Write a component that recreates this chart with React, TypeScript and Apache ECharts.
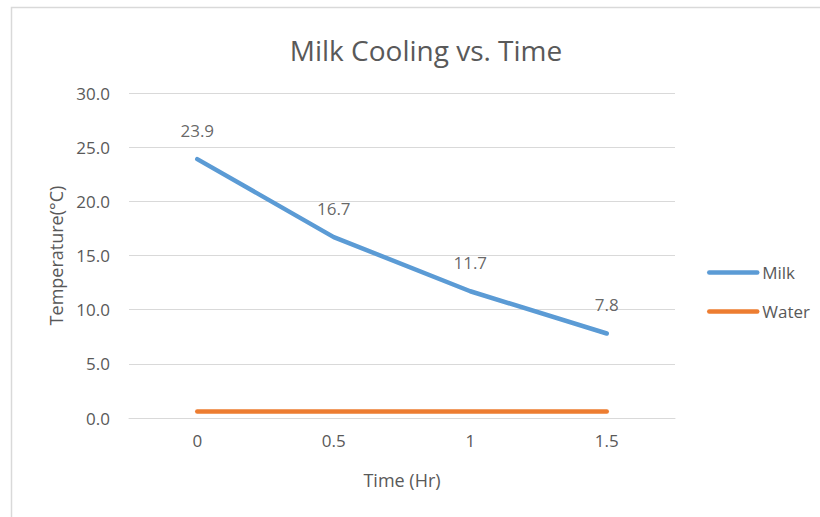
import React, { useEffect, useRef } from "react";
import * as echarts from "echarts";

const categories = ["0", "0.5", "1", "1.5"];
const milkValues = [23.9, 16.7, 11.7, 7.8];
const waterValues = [0.6, 0.6, 0.6, 0.6];
const seriesNames = ["Milk", "Water"];
const titleText = "Milk Cooling vs. Time";
const xAxisName = "Time (Hr)";
const yAxisName = "Temperature(°C)";

const FONT = "'Open Sans', sans-serif";
const GRAY = "#595959";

export default function App() {
  const ref = useRef<HTMLDivElement>(null);
  useEffect(() => {
    if (!ref.current) return;
    const chart = echarts.init(ref.current, undefined, { renderer: "svg" });
    chart.setOption({
      animation: false,
      backgroundColor: "#ffffff",
      textStyle: { fontFamily: FONT },
      title: {
        text: titleText,
        left: 421,
        top: 31,
        textAlign: "center",
        textStyle: { fontFamily: FONT, fontSize: 28, fontWeight: "normal", color: GRAY },
      },
      graphic: [
        {
          type: "rect",
          z: -10,
          shape: { x: 11.5, y: 7.5, width: 900, height: 600 },
          style: { fill: "none", stroke: "#d9d9d9", lineWidth: 1.5 },
        },
      ],
      legend: {
        orient: "vertical",
        left: 707,
        top: 264,
        itemWidth: 48,
        itemHeight: 14,
        itemGap: 22,
        padding: 0,
        itemStyle: { opacity: 0 },
        lineStyle: { width: 4.5, opacity: 1 },
        textStyle: { fontFamily: FONT, fontSize: 17, color: GRAY },
        data: seriesNames,
      },
      grid: { left: 129, right: 145, top: 93, bottom: 99, containLabel: false },
      xAxis: {
        type: "category",
        data: categories,
        boundaryGap: true,
        name: xAxisName,
        nameLocation: "middle",
        nameGap: 53,
        nameTextStyle: { fontFamily: FONT, fontSize: 18, color: GRAY },
        axisLine: { show: true, lineStyle: { color: "#d9d9d9", width: 1 } },
        axisTick: { show: false },
        axisLabel: { margin: 14, fontFamily: FONT, fontSize: 17, color: GRAY },
      },
      yAxis: {
        type: "value",
        min: 0,
        max: 30,
        interval: 5,
        name: yAxisName,
        nameLocation: "middle",
        nameGap: 63,
        nameTextStyle: { fontFamily: FONT, fontSize: 18, color: GRAY },
        axisLine: { show: false },
        axisTick: { show: false },
        splitLine: { lineStyle: { color: "#d9d9d9", width: 1 } },
        axisLabel: {
          margin: 19,
          fontFamily: FONT,
          fontSize: 17,
          color: GRAY,
          formatter: (v: number) => v.toFixed(1),
        },
      },
      series: [
        {
          name: seriesNames[0],
          type: "line",
          data: milkValues,
          symbol: "none",
          color: "#5b9bd5",
          lineStyle: { width: 4.5, color: "#5b9bd5", cap: "round", join: "round" },
        },
        {
          name: seriesNames[1],
          type: "line",
          data: waterValues,
          symbol: "none",
          color: "#ed7d31",
          lineStyle: { width: 4.5, color: "#ed7d31", cap: "round", join: "round" },
        },
        {
          name: "Milk labels",
          type: "scatter",
          data: milkValues,
          symbolSize: 1,
          itemStyle: { color: "rgba(0,0,0,0)" },
          silent: true,
          z: 5,
          label: {
            show: true,
            position: "top",
            distance: 20,
            fontFamily: FONT,
            fontSize: 17,
            color: "#404040",
            formatter: (p: any) => Number(p.value).toFixed(1),
          },
        },
      ],
    });
    return () => chart.dispose();
  }, []);
  return (
    <div
      ref={ref}
      style={{ position: "absolute", left: 0, top: 0, width: 820, height: 517, background: "#fff" }}
    />
  );
}
